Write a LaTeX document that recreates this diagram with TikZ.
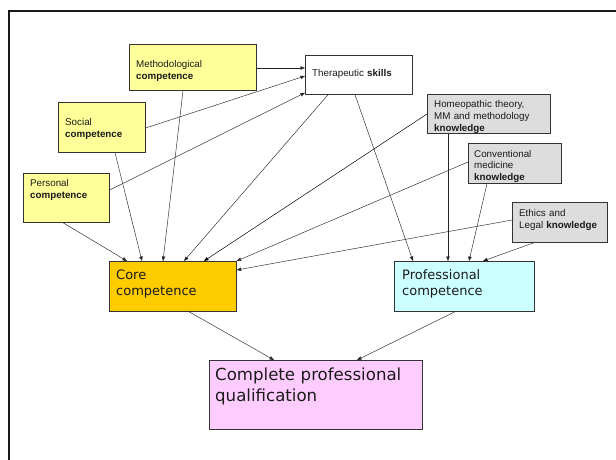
\documentclass[tikz,border=0pt]{standalone}
\usepackage{fontspec}
\usetikzlibrary{arrows.meta,calc}
\newfontfamily\arfont{Liberation Sans}
\newfontfamily\dvfont{DejaVu Sans}
\definecolor{ylw}{HTML}{FFFF99}
\definecolor{corec}{HTML}{FFCC00}
\definecolor{profc}{HTML}{CCFFFF}
\definecolor{complc}{HTML}{FFCCFF}
\definecolor{knowc}{HTML}{DDDDDD}
\definecolor{txtc}{HTML}{1A1A1A}
\begin{document}
\begin{tikzpicture}[x=1pt,y=-1pt,
  box/.style={draw=black!80,line width=0.7pt,rectangle,anchor=north west,inner sep=0pt},
  small/.style={anchor=base west,inner sep=0pt,align=left,text width=130pt,text=txtc,
    font=\arfont\fontsize{9.8}{12}\selectfont},
  big/.style={anchor=base west,inner sep=0pt,align=left,text width=150pt,text=txtc,
    font=\dvfont\fontsize{13}{16}\selectfont},
  huge/.style={anchor=base west,inner sep=0pt,align=left,text width=210pt,text=txtc,
    font=\dvfont\fontsize{16.6}{21}\selectfont},
  conn/.style={line width=0.45pt,draw=black!85,-{Triangle[length=4.5pt,width=3.4pt]}}]
\useasboundingbox (0,0) rectangle (616,459);
\fill[white] (0,0) rectangle (616,459);
\draw[line width=2pt,black!90] (9,470) -- (9,11) -- (630,11);

% boxes
\node[box,fill=ylw,minimum width=127pt,minimum height=46pt] (meth) at (129,44) {};
\node[box,fill=ylw,minimum width=87pt,minimum height=50pt] (soc) at (58,102) {};
\node[box,fill=ylw,minimum width=86pt,minimum height=49pt] (pers) at (23,173) {};
\node[box,fill=white,minimum width=107pt,minimum height=39pt] (ther) at (305,55) {};
\node[box,fill=knowc,minimum width=123pt,minimum height=39pt] (homeo) at (427,94) {};
\node[box,fill=knowc,minimum width=93pt,minimum height=40pt] (conv) at (468,143) {};
\node[box,fill=knowc,minimum width=95pt,minimum height=40pt] (eth) at (512,202) {};
\node[box,fill=corec,minimum width=127pt,minimum height=50pt] (core) at (109,261) {};
\node[box,fill=profc,minimum width=140pt,minimum height=50pt] (prof) at (394,261) {};
\node[box,fill=complc,minimum width=213pt,minimum height=69pt] (compl) at (209,360) {};

% texts
\node[small] (methT) at (136,67) {Methodological\\\textbf{competence}};
\node[small] (socT) at (65,125) {Social\\\textbf{competence}};
\node[small] (persT) at (30,186) {Personal\\\textbf{competence}};
\node[small] (therT) at (312,76) {Therapeutic \textbf{skills}};
\node[small] (homeoT) at (434,107) {Homeopathic theory,\\MM and methodology\\\textbf{knowledge}};
\node[small,font=\arfont\fontsize{9.8}{11.6}\selectfont] (convT) at (474,157) {Conventional\\medicine\\\textbf{knowledge}};
\node[small] (ethT) at (519,216) {Ethics and\\Legal \textbf{knowledge}};
\node[big] (coreT) at (116,279) {Core\\competence};
\node[big] (profT) at (402,279) {Professional\\competence};
\node[huge] (complT) at (215,380) {Complete professional\\qualification};

% connectors
\draw[conn] ($(meth.north east)+(0,24)$) -- ($(ther.north west)+(0,13)$);
\draw[conn] ($(soc.north east)+(0,26)$) -- ($(ther.north west)+(0,21)$);
\draw[conn] ($(pers.north east)+(0,17)$) -- ($(ther.south west)+(0,-2)$);
\draw[conn] ($(meth.south west)+(54,0)$) -- ($(core.north west)+(54,0)$);
\draw[conn] ($(soc.south west)+(57,0)$) -- ($(core.north west)+(33,0)$);
\draw[conn] ($(pers.south west)+(40,0)$) -- ($(core.north west)+(18,0)$);
\draw[conn] ($(ther.south west)+(23,0)$) -- ($(core.north west)+(75,0)$);
\draw[conn,line width=0.5pt,draw=black] ($(homeo.north west)+(0,20)$) -- ($(core.north west)+(95,0)$);
\draw[conn] ($(conv.north west)+(0,19)$) -- (core.north east);
\draw[conn] ($(eth.north west)+(0,18)$) -- ($(core.north east)+(0,9)$);
\draw[conn] ($(ther.south west)+(50,0)$) -- ($(prof.north west)+(19,0)$);
\draw[conn] ($(homeo.south west)+(21,0)$) -- ($(prof.north west)+(54,0)$);
\draw[conn] ($(conv.south west)+(19,0)$) -- ($(prof.north west)+(75,0)$);
\draw[conn] ($(eth.south west)+(22,0)$) -- ($(prof.north west)+(89,0)$);
\draw[conn] ($(core.south west)+(80,0)$) -- ($(compl.north west)+(65,0)$);
\draw[conn] ($(prof.south west)+(61,0)$) -- ($(compl.north west)+(148,0)$);
\end{tikzpicture}
\end{document}
